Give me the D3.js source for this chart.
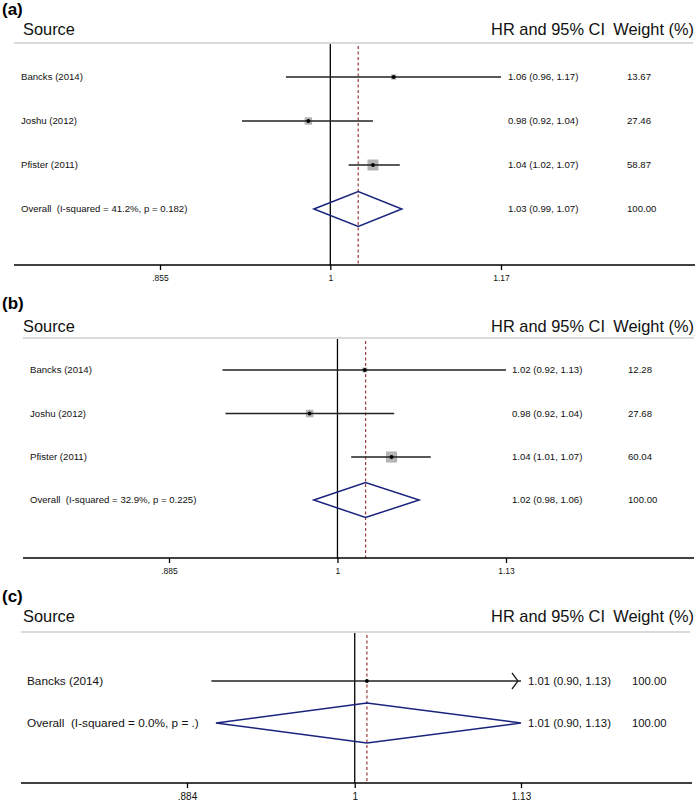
<!DOCTYPE html>
<html>
<head>
<meta charset="utf-8">
<script src="https://cdn.jsdelivr.net/npm/d3@7"></script>
<style>
  html, body { margin: 0; padding: 0; background: #fff; }
  svg { display: block; font-family: "Liberation Sans", Arial, sans-serif; }
  svg text { white-space: pre; }
</style>
</head>
<body>
<svg id="chart" width="697" height="802"></svg>
<script>
// ---------------- DATA ----------------
const studyNames = ["Bancks (2014)", "Joshu (2012)", "Pfister (2011)"];

// Panel (a)
const hrA = [1.06, 0.98, 1.04];
const lowA = [0.96, 0.922, 1.017];
const highA = [1.17, 1.04, 1.066];
const weightA = [13.67, 27.46, 58.87];
const ciTextA = ["1.06 (0.96, 1.17)", "0.98 (0.92, 1.04)", "1.04 (1.02, 1.07)"];
const weightTextA = ["13.67", "27.46", "58.87"];
const overallA = [1.026, 0.985, 1.068];           // estimate, low, high
const overallTextA = ["Overall  (I-squared = 41.2%, p = 0.182)", "1.03 (0.99, 1.07)", "100.00"];
const ticksA = [0.855, 1, 1.17];
const tickLabelsA = [".855", "1", "1.17"];

// Panel (b)
const hrB = [1.02, 0.98, 1.04];
const lowB = [0.92, 0.922, 1.01];
const highB = [1.13, 1.042, 1.07];
const weightB = [12.28, 27.68, 60.04];
const ciTextB = ["1.02 (0.92, 1.13)", "0.98 (0.92, 1.04)", "1.04 (1.01, 1.07)"];
const weightTextB = ["12.28", "27.68", "60.04"];
const overallB = [1.0206, 0.983, 1.061];
const overallTextB = ["Overall  (I-squared = 32.9%, p = 0.225)", "1.02 (0.98, 1.06)", "100.00"];
const ticksB = [0.885, 1, 1.13];
const tickLabelsB = [".885", "1", "1.13"];

// Panel (c)
const studyNamesC = ["Bancks (2014)"];
const hrC = [1.009];
const lowC = [0.90];
const highC = [1.133];
const weightC = [100];
const ciTextC = ["1.01 (0.90, 1.13)"];
const weightTextC = ["100.00"];
const overallC = [1.009, 0.903, 1.13];
const overallTextC = ["Overall  (I-squared = 0.0%, p = .)", "1.01 (0.90, 1.13)", "100.00"];
const ticksC = [0.884, 1, 1.13];
const tickLabelsC = [".884", "1", "1.13"];

// ---------------- LAYOUT ----------------
const panels = [
  { tag: "(a)", names: studyNames, hr: hrA, lo: lowA, hi: highA, w: weightA, ci: ciTextA, wt: weightTextA,
    ov: overallA, ovText: overallTextA, ticks: ticksA, tickLabels: tickLabelsA,
    tagY: 15, headY: 35, sepY: 43, sepX: [14, 693], rows: [77, 121, 165], ovY: 209,
    axisY: 265, axisX: [14, 695], range: [160, 501], labelX: 21, ciX: 508, wX: 627,
    fs: 9.6, ciFs: 9.6, tickFs: 8.5, dH: 17.5, tickLabY: 281, boxes: true },
  { tag: "(b)", names: studyNames, hr: hrB, lo: lowB, hi: highB, w: weightB, ci: ciTextB, wt: weightTextB,
    ov: overallB, ovText: overallTextB, ticks: ticksB, tickLabels: tickLabelsB,
    tagY: 309, headY: 332, sepY: 338, sepX: [23, 694], rows: [370, 413.5, 457], ovY: 500,
    axisY: 558, axisX: [23, 694], range: [169, 506], labelX: 30, ciX: 512, wX: 628,
    fs: 9.6, ciFs: 9.6, tickFs: 8.5, dH: 17.5, tickLabY: 574, boxes: true },
  { tag: "(c)", names: studyNamesC, hr: hrC, lo: lowC, hi: highC, w: weightC, ci: ciTextC, wt: weightTextC,
    ov: overallC, ovText: overallTextC, ticks: ticksC, tickLabels: tickLabelsC,
    tagY: 602, headY: 622, sepY: 632, sepX: [21, 690], rows: [681], ovY: 723,
    axisY: 783, axisX: [21, 692], range: [187, 521], labelX: 27, ciX: 528, wX: 632,
    fs: 11.8, ciFs: 11.3, tickFs: 10, dH: 20, tickLabY: 800, boxes: false }
];

const svg = d3.select("#chart");
const boxSize = d3.scaleSqrt().domain([0, 100]).range([0, 14.3]);

panels.forEach(p => {
  const g = svg.append("g");
  const x = d3.scaleLog().domain([p.ticks[0], p.ticks[p.ticks.length - 1]]).range(p.range);
  const xMax = p.ticks[p.ticks.length - 1];
  const xMin = p.ticks[0];

  // panel tag
  g.append("text").attr("x", 2).attr("y", p.tagY)
    .attr("font-size", 17).attr("font-weight", "bold").attr("fill", "#000").text(p.tag);

  // headers
  g.append("text").attr("x", 23).attr("y", p.headY).attr("font-size", 16.4).attr("fill", "#111").text("Source");
  g.append("text").attr("x", 605).attr("y", p.headY).attr("text-anchor", "end")
    .attr("font-size", 16.4).attr("fill", "#111").text("HR and 95% CI");
  g.append("text").attr("x", 694).attr("y", p.headY).attr("text-anchor", "end")
    .attr("font-size", 16.4).attr("fill", "#111").text("Weight (%)");

  // separator
  g.append("line").attr("x1", p.sepX[0]).attr("x2", p.sepX[1]).attr("y1", p.sepY).attr("y2", p.sepY)
    .attr("stroke", "#cfcfcf").attr("stroke-width", 1.3);

  // null line at 1
  g.append("line").attr("x1", x(1)).attr("x2", x(1)).attr("y1", p.sepY + 1).attr("y2", p.axisY)
    .attr("stroke", "#000").attr("stroke-width", 1.3);

  // overall dashed line
  g.append("line").attr("x1", x(p.ov[0])).attr("x2", x(p.ov[0])).attr("y1", p.sepY + 3).attr("y2", p.axisY)
    .attr("stroke", "#9b3b3b").attr("stroke-width", 1.2).attr("stroke-dasharray", "3,2.5");

  // axis
  const axis = d3.axisBottom(x).tickValues(p.ticks).tickFormat((d, i) => p.tickLabels[i]).tickSize(5).tickSizeOuter(0);
  const ag = g.append("g").attr("transform", `translate(0,${p.axisY})`).call(axis);
  ag.select(".domain").remove();
  ag.selectAll(".tick line").attr("stroke", "#000").attr("stroke-width", 1.3);
  ag.selectAll(".tick text").attr("font-size", p.tickFs).attr("fill", "#111")
    .attr("font-family", "'Liberation Sans', Arial, sans-serif")
    .attr("y", p.tickLabY - p.axisY).attr("dy", 0);
  g.append("line").attr("x1", p.axisX[0]).attr("x2", p.axisX[1]).attr("y1", p.axisY).attr("y2", p.axisY)
    .attr("stroke", "#000").attr("stroke-width", 1.6);

  // studies
  p.names.forEach((name, i) => {
    const y = p.rows[i];
    g.append("text").attr("x", p.labelX).attr("y", y + p.fs * 0.36).attr("font-size", p.fs).attr("fill", "#111").text(name);
    g.append("text").attr("x", p.ciX).attr("y", y + p.ciFs * 0.36).attr("font-size", p.ciFs).attr("fill", "#111").text(p.ci[i]);
    g.append("text").attr("x", p.wX).attr("y", y + p.ciFs * 0.36).attr("font-size", p.ciFs).attr("fill", "#111").text(p.wt[i]);

    const clippedHi = Math.min(p.hi[i], xMax);
    const clippedLo = Math.max(p.lo[i], xMin);
    if (p.boxes) {
      const s = boxSize(p.w[i]);
      g.append("rect").attr("x", x(p.hr[i]) - s / 2).attr("y", y - s / 2).attr("width", s).attr("height", s)
        .attr("fill", "#b4b4b4");
    }
    g.append("line").attr("x1", x(clippedLo)).attr("x2", x(clippedHi)).attr("y1", y).attr("y2", y)
      .attr("stroke", "#222").attr("stroke-width", 1.4);
    if (p.hi[i] > xMax) {
      const tx = x(xMax) - 3;
      g.append("path").attr("d", `M${tx - 6},${y - 8}L${tx},${y}L${tx - 6},${y + 8}`)
        .attr("fill", "none").attr("stroke", "#222").attr("stroke-width", 1.3);
    }
    g.append("circle").attr("cx", x(p.hr[i])).attr("cy", y).attr("r", 1.9).attr("fill", "#000");
  });

  // overall
  const oy = p.ovY;
  g.append("text").attr("x", p.labelX).attr("y", oy + p.fs * 0.36).attr("font-size", p.fs).attr("fill", "#111").text(p.ovText[0]);
  g.append("text").attr("x", p.ciX).attr("y", oy + p.ciFs * 0.36).attr("font-size", p.ciFs).attr("fill", "#111").text(p.ovText[1]);
  g.append("text").attr("x", p.wX).attr("y", oy + p.ciFs * 0.36).attr("font-size", p.ciFs).attr("fill", "#111").text(p.ovText[2]);
  const dpts = [[x(p.ov[1]), oy], [x(p.ov[0]), oy - p.dH], [x(Math.min(p.ov[2], xMax)), oy], [x(p.ov[0]), oy + p.dH]];
  g.append("path").attr("d", d3.line()(dpts) + "Z").attr("fill", "none")
    .attr("stroke", "#1a237e").attr("stroke-width", 1.5);
});
</script>
</body>
</html>
